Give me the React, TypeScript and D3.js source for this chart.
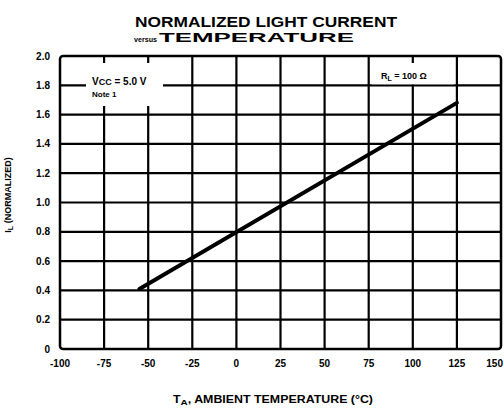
import React from 'react';
import * as d3 from 'd3';

// chart values
const xTicks = [-100, -75, -50, -25, 0, 25, 50, 75, 100, 125, 150];
const yTicks = [0, 0.2, 0.4, 0.6, 0.8, 1.0, 1.2, 1.4, 1.6, 1.8, 2.0];
const yTickLabels = ['0', '0.2', '0.4', '0.6', '0.8', '1.0', '1.2', '1.4', '1.6', '1.8', '2.0'];
const curveTemps = [-55, 125];
const curveValues = [0.41, 1.68];

const W = 504;
const H = 410;
const margin = { top: 56, right: 3, bottom: 61, left: 60 };

const App: React.FC = () => {
  const x = d3.scaleLinear().domain([-100, 150]).range([margin.left, W - margin.right]);
  const y = d3.scaleLinear().domain([0, 2]).range([H - margin.bottom, margin.top]);

  const pts = curveTemps.map((t, i) => [t, curveValues[i]] as [number, number]);
  const line = d3.line<[number, number]>().x(d => x(d[0])).y(d => y(d[1]));

  const font = "'Liberation Sans', Arial, sans-serif";

  return (
    <svg width={W} height={H} style={{ position: 'absolute', left: 0, top: 0, background: '#fff' }}
      fontFamily={font} fontWeight="bold">
      {/* title */}
      <text x={266} y={27} textAnchor="middle" fontSize={14} textLength={262} lengthAdjust="spacingAndGlyphs">
        NORMALIZED LIGHT CURRENT
      </text>
      <text x={134} y={42} fontSize={8} textLength={23} lengthAdjust="spacingAndGlyphs">versus</text>
      <text x={159} y={42} fontSize={13} textLength={195} lengthAdjust="spacingAndGlyphs">TEMPERATURE</text>

      {/* grid */}
      <g stroke="#000" strokeWidth={2.2}>
        {xTicks.slice(1, -1).map(t => (
          <line key={'v' + t} x1={x(t)} x2={x(t)} y1={y(2)} y2={y(0)} />
        ))}
        {yTicks.slice(1, -1).map(v => (
          <line key={'h' + v} x1={x(-100)} x2={x(150)} y1={y(v)} y2={y(v)} />
        ))}
      </g>

      {/* label boxes over the grid */}
      <rect x={86} y={63} width={77} height={43} fill="#fff" />
      <rect x={372} y={63} width={82} height={y(1.8) - 64} fill="#fff" />
      <text x={92} y={85} fontSize={10}>V<tspan fontSize={9}>CC</tspan> = 5.0 V</text>
      <text x={92} y={97} fontSize={8}>Note 1</text>
      <text x={381} y={79} fontSize={9}>R<tspan fontSize={7} dy={2}>L</tspan><tspan dy={-2}> = 100 Ω</tspan></text>

      {/* frame */}
      <rect x={x(-100)} y={y(2)} width={x(150) - x(-100)} height={y(0) - y(2)}
        fill="none" stroke="#000" strokeWidth={2.5} rx={3} />

      {/* curve */}
      <path d={line(pts) || ''} fill="none" stroke="#000" strokeWidth={4} strokeLinecap="round" />

      {/* y tick labels */}
      {yTicks.map((v, i) => (
        <text key={'yl' + v} x={50} y={y(v)} dy="0.35em" textAnchor="end" fontSize={10}>
          {yTickLabels[i]}
        </text>
      ))}

      {/* x tick labels */}
      {xTicks.map((t, i) => (
        <text key={'xl' + t} x={i === xTicks.length - 1 ? W - 1 : x(t)} y={367}
          textAnchor={i === xTicks.length - 1 ? 'end' : 'middle'} fontSize={10}>
          {t}
        </text>
      ))}

      {/* axis titles */}
      <text transform="translate(11,195) rotate(-90)" textAnchor="middle" fontSize={9}>
        I<tspan fontSize={7} dy={2}>L</tspan><tspan dy={-2}> (NORMALIZED)</tspan>
      </text>
      <text x={173} y={403} fontSize={10} textLength={200} lengthAdjust="spacingAndGlyphs">
        T<tspan fontSize={8} dy={2}>A</tspan><tspan dy={-2}>, AMBIENT TEMPERATURE (°C)</tspan>
      </text>
    </svg>
  );
};

export default App;
